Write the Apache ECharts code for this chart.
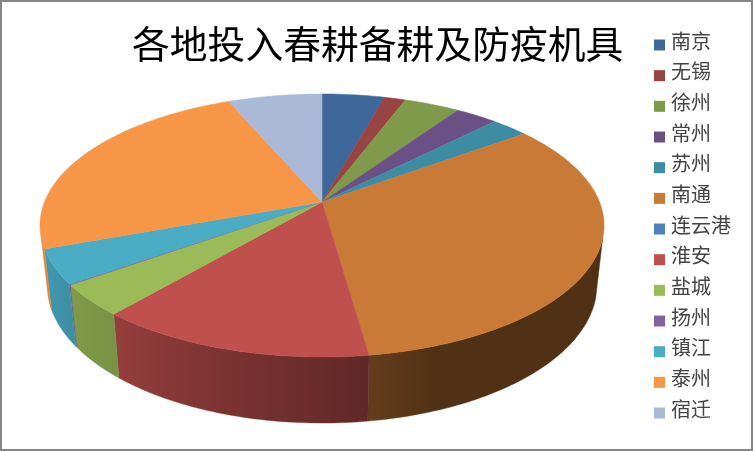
<!DOCTYPE html>
<html><head><meta charset="utf-8">
<style>html,body{margin:0;padding:0;background:#fff}#c{width:753px;height:451px}</style>
<script src="https://cdn.jsdelivr.net/npm/echarts@6/dist/echarts.min.js"></script></head>
<body><div id="c"></div>
<script>
const titleText = '各地投入春耕备耕及防疫机具';
const cities = ['南京','无锡','徐州','常州','苏州','南通','连云港','淮安','盐城','扬州','镇江','泰州','宿迁'];
const shares = [4.25,1.45,3.8,2.85,2.55,32.85,0,13.45,3.85,0.1,4.2,24.2,6.4];
const sliceColors = ['#3D6899','#974442','#7E9A4A','#6B5086','#3C8DA3','#C97A36','#4F81BD','#C0504D','#9BBB59','#8064A2','#4BACC6','#F79646','#AAB9D6'];

const total = shares.reduce((a,b)=>a+b,0);
const startAngles = []; shares.reduce((s,v,i)=>{startAngles[i]=s;return s+v/total*360;},0);

// perspective tilt of the disc
const cx=322, cy=202, a=277.5, b=127.3, p=0.1787;
function disc(t){const r=t*Math.PI/180,u=Math.sin(r),v=Math.cos(r),w=1+p*v;return [a*u/w,-b*v/w];}
function upper(t){const q=disc(t);return [cx+q[0],cy+q[1]];}
function lower(t){const q=disc(t);return [cx+0.975*q[0],cy+58+1.052*q[1]];}
const shadeStops=[[0,.4],[160,.4],[172,.5],[190,.6],[220,.78],[235,.83],[250,.9],[270,.95],[360,.95]];
function shade(t){for(let i=1;i<shadeStops.length;i++){const A=shadeStops[i-1],B=shadeStops[i];
  if(t<=B[0])return A[1]+(B[1]-A[1])*(t-A[0])/(B[0]-A[0]);}return .95;}
function mix(hex,f){const n=parseInt(hex.slice(1),16);
  return 'rgb('+[n>>16,(n>>8)&255,n&255].map(c=>Math.round(c*f)).join(',')+')';}

function slice(i){
  const children=[];
  if(!shares[i])return {type:'group',children};
  const s=startAngles[i], e=s+shares[i]/total*360, color=sliceColors[i];
  const pts=[[cx,cy]];
  const n=Math.max(1,Math.ceil(e-s));
  for(let k=0;k<=n;k++)pts.push(upper(s+(e-s)*k/n));
  // side wall: only the part between the two silhouette tangents
  const s2=Math.max(s,105.7), e2=Math.min(e,254.3);
  if(e2>s2){
    const m=Math.max(1,Math.ceil(e2-s2)), up=[], lo=[], samples=[];
    for(let k=0;k<=m;k++){const t=s2+(e2-s2)*k/m;up.push(upper(t));lo.push(lower(t));samples.push([up[k][0],shade(t)]);}
    const xs=up.concat(lo).map(q=>q[0]), x0=Math.min(...xs), x1=Math.max(...xs), span=Math.max(x1-x0,1);
    const stops=samples.map(q=>({offset:Math.min(1,Math.max(0,(q[0]-x0)/span)),color:mix(color,q[1])}))
      .sort((A,B)=>A.offset-B.offset);
    const grad=new echarts.graphic.LinearGradient(0,0,1,0,stops);
    children.push({type:'polygon',z2:1,silent:true,shape:{points:up.concat(lo.reverse())},
      style:{fill:grad,stroke:grad,lineWidth:.4}});
  }
  children.push({type:'polygon',z2:5,silent:true,shape:{points:pts},style:{fill:color,stroke:color,lineWidth:.5}});
  return {type:'group',children};
}

const chart=echarts.init(document.getElementById('c'),null,{renderer:'canvas'});
const font='"Noto Sans CJK SC","Liberation Serif",serif';
chart.setOption({
  animation:false,
  backgroundColor:'#fff',
  title:{text:titleText,left:127,top:15.5,textStyle:{fontFamily:font,fontSize:37.8,fontWeight:'normal',color:'#000',lineHeight:46}},
  legend:{orient:'vertical',left:654,top:31,padding:0,icon:'rect',itemWidth:11,itemHeight:11,itemGap:2.67,selectedMode:false,
    data:cities,formatter:name=>'{t|'+name+'}',
    textStyle:{fontFamily:font,fontSize:20,color:'#444',
      rich:{t:{fontFamily:font,fontSize:20,color:'#444',lineHeight:20,padding:[0,0,8,1]}}}},
  graphic:[{type:'rect',z:-1,silent:true,shape:{x:1,y:1,width:751,height:449},style:{fill:'none',stroke:'#868686',lineWidth:2}}],
  series:cities.map((name,i)=>({
    type:'custom',name,coordinateSystem:'none',silent:true,
    itemStyle:{color:sliceColors[i]},
    data:[shares[i]],
    renderItem:()=>slice(i)
  }))
});
</script></body></html>
